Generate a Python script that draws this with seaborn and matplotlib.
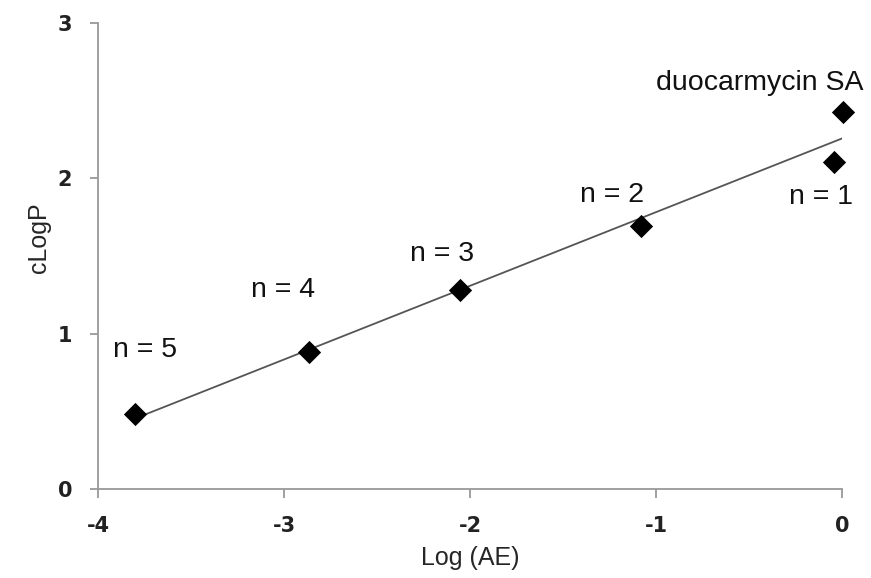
import matplotlib
matplotlib.use("Agg")
import matplotlib.pyplot as plt
import seaborn as sns
import pandas as pd

# values
log_ae = [-3.80, -2.866, -2.054, -1.081, -0.043, 0.005]
clogp = [0.483, 0.882, 1.281, 1.693, 2.106, 2.43]
labels = ["n = 5", "n = 4", "n = 3", "n = 2", "n = 1", "duocarmycin SA"]

x_ticks = [-4, -3, -2, -1, 0]
y_ticks = [0, 1, 2, 3]

# label placement in data units (centre of each text)
label_pos = {
    "n = 5": (-3.747, 0.895),
    "n = 4": (-3.005, 1.281),
    "n = 3": (-2.151, 1.513),
    "n = 2": (-1.237, 1.893),
    "n = 1": (-0.113, 1.88),
    "duocarmycin SA": (-0.441, 2.614),
}

df = pd.DataFrame({"Log (AE)": log_ae, "cLogP": clogp, "label": labels})

sns.set_style("white")
plt.rcParams["font.family"] = ["Liberation Sans", "DejaVu Sans"]

fig = plt.figure(figsize=(8.71, 5.78), dpi=100)
ax = fig.add_axes([0.1125, 0.154, 0.8542, 0.806])

# linear trendline over all points
sns.regplot(data=df, x="Log (AE)", y="cLogP", ax=ax, scatter=False, ci=None,
            truncate=True, line_kws={"color": "#555555", "lw": 1.3, "zorder": 2})
sns.scatterplot(data=df, x="Log (AE)", y="cLogP", ax=ax, marker="D", s=140,
                color="black", edgecolor="black", linewidth=0, zorder=3,
                clip_on=False)

for name in labels:
    tx, ty = label_pos[name]
    ax.text(tx, ty, name, ha="center", va="center", fontsize=20.5, color="#111111")

ax.set_xlim(-4, 0)
ax.set_ylim(0, 3)
ax.set_xticks(x_ticks)
ax.set_yticks(y_ticks)
tick_font = ["Liberation Sans Narrow", "DejaVu Sans"]
ax.set_xticklabels([str(t) for t in x_ticks], family=tick_font, fontweight="bold", fontsize=15)
ax.set_yticklabels([str(t) for t in y_ticks], family=tick_font, fontweight="bold", fontsize=15)
ax.set_xlabel("Log (AE)", fontsize=18)
ax.set_ylabel("cLogP", fontsize=18)
ax.xaxis.set_label_coords(0.5, -0.123)
ax.yaxis.set_label_coords(-0.063, 0.54)

sns.despine(ax=ax)
for side in ["left", "bottom"]:
    ax.spines[side].set_color("#999999")
    ax.spines[side].set_linewidth(1.3)
ax.tick_params(axis="x", bottom=True, direction="out", length=6.5, width=1.3,
               color="#999999", pad=13, labelcolor="#222222")
ax.tick_params(axis="y", left=True, direction="out", length=6, width=1.3,
               color="#999999", pad=12.5, labelcolor="#222222")

fig.savefig("out.png", dpi=100)
